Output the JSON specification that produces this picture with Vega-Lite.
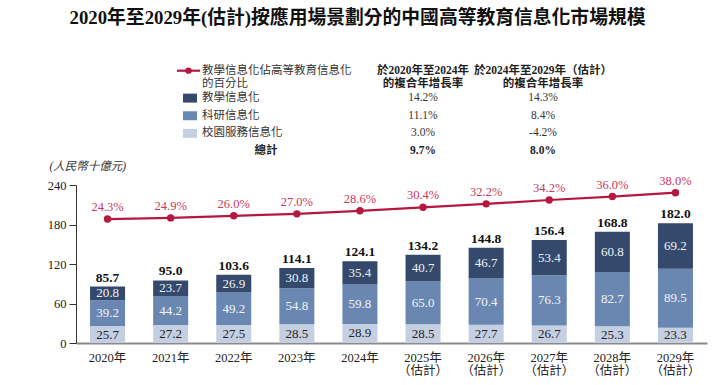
{
  "$schema": "https://vega.github.io/schema/vega-lite/v6.json",
  "width": 631,
  "height": 158,
  "autosize": {"type": "none"},
  "padding": {"left": 76, "top": 185, "right": 7, "bottom": 42},
  "background": "white",
  "title": {
    "text": "2020年至2029年(估計)按應用場景劃分的中國高等教育信息化市場規模",
    "frame": "group",
    "anchor": "middle",
    "dx": -34,
    "offset": 37,
    "fontSize": 18.8,
    "fontWeight": "bold",
    "font": "Liberation Serif, Noto Sans CJK TC",
    "color": "#111"
  },
  "config": {
    "view": {"stroke": null},
    "text": {"font": "Liberation Serif, Noto Sans CJK TC"},
    "axis": {"labelFont": "Liberation Serif, Noto Sans CJK TC", "titleFont": "Liberation Serif, Noto Sans CJK TC"}
  },
  "datasets": {
    "seg": [
      {"year": "2020年", "series": "校園服務信息化", "order": 1, "value": 25.7},
      {"year": "2020年", "series": "科研信息化", "order": 2, "value": 39.2},
      {"year": "2020年", "series": "教學信息化", "order": 3, "value": 20.8},
      {"year": "2021年", "series": "校園服務信息化", "order": 1, "value": 27.2},
      {"year": "2021年", "series": "科研信息化", "order": 2, "value": 44.2},
      {"year": "2021年", "series": "教學信息化", "order": 3, "value": 23.7},
      {"year": "2022年", "series": "校園服務信息化", "order": 1, "value": 27.5},
      {"year": "2022年", "series": "科研信息化", "order": 2, "value": 49.2},
      {"year": "2022年", "series": "教學信息化", "order": 3, "value": 26.9},
      {"year": "2023年", "series": "校園服務信息化", "order": 1, "value": 28.5},
      {"year": "2023年", "series": "科研信息化", "order": 2, "value": 54.8},
      {"year": "2023年", "series": "教學信息化", "order": 3, "value": 30.8},
      {"year": "2024年", "series": "校園服務信息化", "order": 1, "value": 28.9},
      {"year": "2024年", "series": "科研信息化", "order": 2, "value": 59.8},
      {"year": "2024年", "series": "教學信息化", "order": 3, "value": 35.4},
      {"year": "2025年|（估計）", "series": "校園服務信息化", "order": 1, "value": 28.5},
      {"year": "2025年|（估計）", "series": "科研信息化", "order": 2, "value": 65.0},
      {"year": "2025年|（估計）", "series": "教學信息化", "order": 3, "value": 40.7},
      {"year": "2026年|（估計）", "series": "校園服務信息化", "order": 1, "value": 27.7},
      {"year": "2026年|（估計）", "series": "科研信息化", "order": 2, "value": 70.4},
      {"year": "2026年|（估計）", "series": "教學信息化", "order": 3, "value": 46.7},
      {"year": "2027年|（估計）", "series": "校園服務信息化", "order": 1, "value": 26.7},
      {"year": "2027年|（估計）", "series": "科研信息化", "order": 2, "value": 76.3},
      {"year": "2027年|（估計）", "series": "教學信息化", "order": 3, "value": 53.4},
      {"year": "2028年|（估計）", "series": "校園服務信息化", "order": 1, "value": 25.3},
      {"year": "2028年|（估計）", "series": "科研信息化", "order": 2, "value": 82.7},
      {"year": "2028年|（估計）", "series": "教學信息化", "order": 3, "value": 60.8},
      {"year": "2029年|（估計）", "series": "校園服務信息化", "order": 1, "value": 23.3},
      {"year": "2029年|（估計）", "series": "科研信息化", "order": 2, "value": 89.5},
      {"year": "2029年|（估計）", "series": "教學信息化", "order": 3, "value": 69.2}
    ],
    "yr": [
      {"year": "2020年", "total": 85.7, "pct": 24.3},
      {"year": "2021年", "total": 95.0, "pct": 24.9},
      {"year": "2022年", "total": 103.6, "pct": 26.0},
      {"year": "2023年", "total": 114.1, "pct": 27.0},
      {"year": "2024年", "total": 124.1, "pct": 28.6},
      {"year": "2025年|（估計）", "total": 134.2, "pct": 30.4},
      {"year": "2026年|（估計）", "total": 144.8, "pct": 32.2},
      {"year": "2027年|（估計）", "total": 156.4, "pct": 34.2},
      {"year": "2028年|（估計）", "total": 168.8, "pct": 36.0},
      {"year": "2029年|（估計）", "total": 182.0, "pct": 38.0}
    ],
    "table": [
      {"key": "head", "kind": "head", "series": "教學信息化佔高等教育信息化的百分比", "label": "教學信息化佔高等教育信息化\n的百分比", "p1": "於2020年至2024年\n的複合年增長率", "p2": "於2024年至2029年（估計）\n的複合年增長率"},
      {"key": "教學信息化", "kind": "item", "series": "教學信息化", "label": "教學信息化", "p1": "14.2%", "p2": "14.3%"},
      {"key": "科研信息化", "kind": "item", "series": "科研信息化", "label": "科研信息化", "p1": "11.1%", "p2": "8.4%"},
      {"key": "校園服務信息化", "kind": "item", "series": "校園服務信息化", "label": "校園服務信息化", "p1": "3.0%", "p2": "-4.2%"},
      {"key": "總計", "kind": "total", "series": "總計", "label": "總計", "p1": "9.7%", "p2": "8.0%"}
    ]
  },
  "layer": [
    {
      "layer": [
        {
          "layer": [
            {
              "data": {"name": "seg"},
              "mark": {"type": "bar"},
              "encoding": {
                "x": {
                  "field": "year", "type": "nominal", "sort": null,
                  "scale": {"paddingInner": 0.445, "paddingOuter": 0.2225},
                  "axis": {
                    "title": null, "labelAngle": 0, "ticks": false,
                    "domainColor": "#8a8a8a", "domainWidth": 2,
                    "labelPadding": 8, "labelFontSize": 12.5, "labelLineHeight": 13,
                    "labelColor": "#222",
                    "labelExpr": "split(datum.label, '|')"
                  }
                },
                "y": {
                  "field": "value", "type": "quantitative", "stack": "zero",
                  "scale": {"domain": [0, 240], "nice": false},
                  "axis": {
                    "values": [0, 60, 120, 180, 240], "tickCount": 5, "labelOverlap": false, "grid": false,
                    "tickSize": 7, "tickColor": "#333", "domainColor": "#333",
                    "labelPadding": 3, "labelFontSize": 12.5, "labelColor": "#222",
                    "title": "(人民幣十億元)", "titleAngle": 0, "titleAlign": "left",
                    "titleBaseline": "middle", "titleX": -27, "titleY": -19,
                    "titleFontStyle": "italic", "titleFontWeight": "normal",
                    "titleFontSize": 11.5, "titleColor": "#333"
                  }
                },
                "color": {
                  "field": "series", "type": "nominal",
                  "scale": {"domain": ["教學信息化", "科研信息化", "校園服務信息化"], "range": ["#34496b", "#6a87b1", "#c5cfe2"]},
                  "legend": null
                },
                "order": {"field": "order", "type": "quantitative"}
              }
            },
            {
              "data": {"name": "seg"},
              "transform": [
                {"stack": "value", "groupby": ["year"], "sort": [{"field": "order", "order": "ascending"}], "as": ["v0", "v1"]},
                {"calculate": "(datum.v0 + datum.v1) / 2", "as": "mid"}
              ],
              "mark": {"type": "text", "fontSize": 13, "baseline": "middle"},
              "encoding": {
                "x": {"field": "year", "type": "nominal", "sort": null},
                "y": {
                  "field": "mid", "type": "quantitative",
                  "axis": {
                    "values": [0, 60, 120, 180, 240], "tickCount": 5, "labelOverlap": false, "grid": false,
                    "tickSize": 7, "tickColor": "#333", "domainColor": "#333",
                    "labelPadding": 3, "labelFontSize": 12.5, "labelColor": "#222",
                    "title": "(人民幣十億元)", "titleAngle": 0, "titleAlign": "left",
                    "titleBaseline": "middle", "titleX": -27, "titleY": -19,
                    "titleFontStyle": "italic", "titleFontWeight": "normal",
                    "titleFontSize": 11.5, "titleColor": "#333"
                  }
                },
                "text": {"field": "value", "type": "quantitative", "format": ".1f"},
                "color": {"condition": {"test": "datum.series === '校園服務信息化'", "value": "#222"}, "value": "#f2f4f8"}
              }
            },
            {
              "data": {"name": "yr"},
              "mark": {"type": "text", "fontSize": 13.5, "fontWeight": "bold", "baseline": "bottom", "dy": -2, "color": "#111"},
              "encoding": {
                "x": {"field": "year", "type": "nominal", "sort": null},
                "y": {
                  "field": "total", "type": "quantitative",
                  "axis": {
                    "values": [0, 60, 120, 180, 240], "tickCount": 5, "labelOverlap": false, "grid": false,
                    "tickSize": 7, "tickColor": "#333", "domainColor": "#333",
                    "labelPadding": 3, "labelFontSize": 12.5, "labelColor": "#222",
                    "title": "(人民幣十億元)", "titleAngle": 0, "titleAlign": "left",
                    "titleBaseline": "middle", "titleX": -27, "titleY": -19,
                    "titleFontStyle": "italic", "titleFontWeight": "normal",
                    "titleFontSize": 11.5, "titleColor": "#333"
                  }
                },
                "text": {"field": "total", "type": "quantitative", "format": ".1f"}
              }
            }
          ]
        },
        {
          "layer": [
            {
              "data": {"name": "yr"},
              "mark": {"type": "line", "color": "#b5173e", "strokeWidth": 2.2, "point": {"filled": true, "size": 55, "color": "#b5173e"}},
              "encoding": {
                "x": {"field": "year", "type": "nominal", "sort": null},
                "y": {"field": "pct", "type": "quantitative", "scale": {"domain": [-40.1, 42], "nice": false, "zero": false}, "axis": null}
              }
            },
            {
              "data": {"name": "yr"},
              "transform": [{"calculate": "format(datum.pct, '.1f') + '%'", "as": "plabel"}],
              "mark": {"type": "text", "fontSize": 12.5, "baseline": "middle", "dy": -12, "color": "#c8385e"},
              "encoding": {
                "x": {"field": "year", "type": "nominal", "sort": null},
                "y": {"field": "pct", "type": "quantitative", "axis": null},
                "text": {"field": "plabel", "type": "nominal"}
              }
            }
          ]
        }
      ],
      "resolve": {"scale": {"y": "independent"}}
    },
    {
      "data": {"name": "table"},
      "layer": [
        {
          "transform": [{"filter": "datum.kind === 'head'"}],
          "mark": {"type": "rule", "color": "#b5173e", "strokeWidth": 2.2, "yOffset": -9.8},
          "encoding": {
            "x": {"datum": 101, "type": "quantitative", "scale": {"domain": [0, 631], "nice": false, "zero": false}, "axis": null},
            "x2": {"datum": 124},
            "y": {"field": "key", "type": "nominal", "scale": {"type": "point", "padding": 0, "domain": ["head", "教學信息化", "科研信息化", "校園服務信息化", "總計"], "range": [-104.5, -34]}, "axis": null}
          }
        },
        {
          "transform": [{"filter": "datum.kind === 'head'"}],
          "mark": {"type": "point", "filled": true, "size": 40, "color": "#b5173e", "opacity": 1, "yOffset": -9.8},
          "encoding": {
            "x": {"datum": 112.5, "type": "quantitative"},
            "y": {"field": "key", "type": "nominal"}
          }
        },
        {
          "transform": [{"filter": "datum.kind === 'item'"}],
          "mark": {"type": "point", "filled": true, "opacity": 1, "shape": "M-1,-0.64H1V0.64H-1Z", "size": 196},
          "encoding": {
            "x": {"datum": 114, "type": "quantitative"},
            "y": {"field": "key", "type": "nominal"},
            "color": {"field": "series", "type": "nominal", "legend": null}
          }
        },
        {
          "transform": [{"filter": "datum.kind === 'head'"}],
          "mark": {"type": "text", "align": "left", "baseline": "middle", "fontSize": 11.5, "lineHeight": 13, "lineBreak": "\n", "dy": -9.8, "color": "#333"},
          "encoding": {
            "x": {"datum": 126, "type": "quantitative"},
            "y": {"field": "key", "type": "nominal"},
            "text": {"field": "label"}
          }
        },
        {
          "transform": [{"filter": "datum.kind === 'item'"}],
          "mark": {"type": "text", "align": "left", "baseline": "middle", "fontSize": 11.5, "color": "#333"},
          "encoding": {
            "x": {"datum": 126, "type": "quantitative"},
            "y": {"field": "key", "type": "nominal"},
            "text": {"field": "label"}
          }
        },
        {
          "transform": [{"filter": "datum.kind === 'total'"}],
          "mark": {"type": "text", "align": "center", "baseline": "middle", "fontSize": 11.5, "fontWeight": "bold", "color": "#222"},
          "encoding": {
            "x": {"datum": 190, "type": "quantitative"},
            "y": {"field": "key", "type": "nominal"},
            "text": {"field": "label"}
          }
        },
        {
          "transform": [{"filter": "datum.kind === 'head'"}],
          "mark": {"type": "text", "align": "center", "baseline": "middle", "fontSize": 11.5, "fontWeight": "bold", "lineHeight": 13, "lineBreak": "\n", "dy": -9.8, "color": "#222"},
          "encoding": {
            "x": {"datum": 347, "type": "quantitative"},
            "y": {"field": "key", "type": "nominal"},
            "text": {"field": "p1"}
          }
        },
        {
          "transform": [{"filter": "datum.kind === 'head'"}],
          "mark": {"type": "text", "align": "center", "baseline": "middle", "fontSize": 11.5, "fontWeight": "bold", "lineHeight": 13, "lineBreak": "\n", "dy": -9.8, "color": "#222"},
          "encoding": {
            "x": {"datum": 467, "type": "quantitative"},
            "y": {"field": "key", "type": "nominal"},
            "text": {"field": "p2"}
          }
        },
        {
          "transform": [{"filter": "datum.kind === 'item'"}],
          "mark": {"type": "text", "align": "center", "baseline": "middle", "fontSize": 11.5, "color": "#333"},
          "encoding": {
            "x": {"datum": 347, "type": "quantitative"},
            "y": {"field": "key", "type": "nominal"},
            "text": {"field": "p1"}
          }
        },
        {
          "transform": [{"filter": "datum.kind === 'item'"}],
          "mark": {"type": "text", "align": "center", "baseline": "middle", "fontSize": 11.5, "color": "#333"},
          "encoding": {
            "x": {"datum": 467, "type": "quantitative"},
            "y": {"field": "key", "type": "nominal"},
            "text": {"field": "p2"}
          }
        },
        {
          "transform": [{"filter": "datum.kind === 'total'"}],
          "mark": {"type": "text", "align": "center", "baseline": "middle", "fontSize": 11.5, "fontWeight": "bold", "color": "#222"},
          "encoding": {
            "x": {"datum": 347, "type": "quantitative"},
            "y": {"field": "key", "type": "nominal"},
            "text": {"field": "p1"}
          }
        },
        {
          "transform": [{"filter": "datum.kind === 'total'"}],
          "mark": {"type": "text", "align": "center", "baseline": "middle", "fontSize": 11.5, "fontWeight": "bold", "color": "#222"},
          "encoding": {
            "x": {"datum": 467, "type": "quantitative"},
            "y": {"field": "key", "type": "nominal"},
            "text": {"field": "p2"}
          }
        }
      ]
    }
  ],
  "resolve": {"scale": {"x": "independent", "y": "independent"}}
}
